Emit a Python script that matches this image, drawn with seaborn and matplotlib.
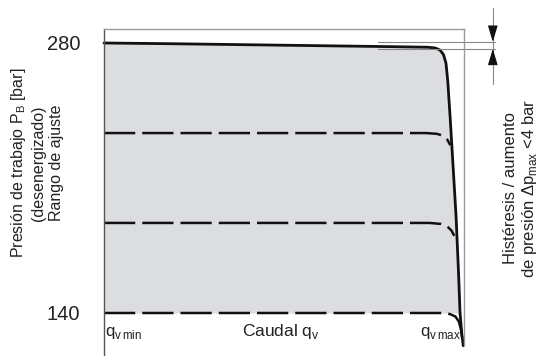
import numpy as np
import pandas as pd
import matplotlib.pyplot as plt
import seaborn as sns

sns.set_style("white")
plt.rcParams['font.family'] = ['Liberation Sans', 'DejaVu Sans']

# pressure levels (bar)
p_min, p_max = 140, 280
tick_vals = [140, 280]

# upper solid curve (flow in % of range, pressure in bar)
top_x = [0, 20, 40, 60, 80, 90, 92.0, 93.3, 94.3, 95.0, 95.5, 96.2, 97.0, 97.8, 98.5, 98.9, 99.4, 99.8]
top_y = [280, 279.6, 279.1, 278.6, 278.1, 277.8, 277.4, 276.4, 274.0, 269.5, 260, 240, 215, 190, 160, 140, 129, 123]

# dashed setting levels with their end bends
d1_x = [0, 89.5, 92.5, 94.3, 95.4, 96.2]
d1_y = [233.3, 233.3, 232.9, 231.8, 229.8, 227.0]
d2_x = [0, 90.5, 93.5, 95.3, 96.5, 97.3]
d2_y = [186.7, 186.7, 186.2, 185.0, 182.8, 180.0]
d3_x = [0, 93.5, 96.0, 97.6, 98.6, 99.2, 99.5]
d3_y = [140, 140, 139.5, 138.2, 135.5, 131.0, 127.0]

fig = plt.figure(figsize=(5.46, 3.56), dpi=100)
ax = fig.add_axes([104/546, 0, 360/546, 1 - 29/356])
px = 270 / 140.0
ax.set_ylim(140 - 43/px, 280 + 14/px)
ax.set_xlim(0, 100)

# gray fill region
k = top_y.index(140) + 1
ax.fill_between(top_x[:k], top_y[:k], p_min, color='#dcdde0', lw=0)

df_top = pd.DataFrame({'x': top_x, 'y': top_y})
sns.lineplot(data=df_top, x='x', y='y', sort=False, color='#111111', lw=2.0, ax=ax, clip_on=False)
for dx, dy in [(d1_x, d1_y), (d2_x, d2_y), (d3_x, d3_y)]:
    sns.lineplot(x=dx, y=dy, sort=False, color='#111111', lw=1.8, ax=ax,
                 dashes=False, clip_on=False).lines[-1].set_dashes((12.5, 2.8))

# spines
for s in ['top', 'right']:
    ax.spines[s].set_color('#9a9a9a')
    ax.spines[s].set_linewidth(1.0)
ax.spines['left'].set_color('#555555')
ax.spines['left'].set_linewidth(1.0)
ax.spines['bottom'].set_visible(False)
ax.spines['right'].set_bounds(140 - 32/px, 280 + 14/px)

ax.set_yticks(tick_vals)
ax.set_yticklabels([str(v) for v in tick_vals], fontsize=14.5, color='#222222')
ax.tick_params(axis='y', length=0, pad=17)
ax.set_xticks([])
ax.set_xlabel('')
ax.set_ylabel('')

# hysteresis marker lines
ax.plot([76, 108.5], [280.6, 280.6], color='#888888', lw=0.8, clip_on=False)
ax.plot([76, 108.5], [277.0, 277.0], color='#888888', lw=0.8, clip_on=False)
ax.plot([108, 108], [298.0, 258.5], color='#888888', lw=0.8, clip_on=False)
ax.annotate('', xy=(108, 280.6), xytext=(108, 288.5), annotation_clip=False,
            arrowprops=dict(arrowstyle='-|>,head_length=1.0,head_width=0.3', color='#111111',
                            lw=0.8, shrinkA=0, shrinkB=0))
ax.annotate('', xy=(108, 277.0), xytext=(108, 269.0), annotation_clip=False,
            arrowprops=dict(arrowstyle='-|>,head_length=1.0,head_width=0.3', color='#111111',
                            lw=0.8, shrinkA=0, shrinkB=0))

# axis texts
fig.text(37/546, 1 - 163/356,
         'Presión de trabajo P$_\\mathregular{B}$ [bar]\n(desenergizado)\nRango de ajuste',
         rotation=90, ha='center', va='center', multialignment='center',
         fontsize=11.5, color='#222222', linespacing=1.25)
fig.text(521/546, 1 - 188/356,
         'Histéresis / aumento\nde presión Δp$_\\mathregular{max}$ <4 bar',
         rotation=90, ha='center', va='center', multialignment='center',
         fontsize=12, color='#222222', linespacing=1.15)

ax.text(0.3, 129.5, 'q$_\\mathregular{v\\,min}$', ha='left', va='center', fontsize=12, color='#222222')
ax.text(49, 130.5, 'Caudal q$_\\mathregular{v}$', ha='center', va='center', fontsize=12.5, color='#222222')
ax.text(99.3, 129.5, 'q$_\\mathregular{v\\,max}$', ha='right', va='center', fontsize=12, color='#222222')

fig.savefig('out.png', dpi=100)
